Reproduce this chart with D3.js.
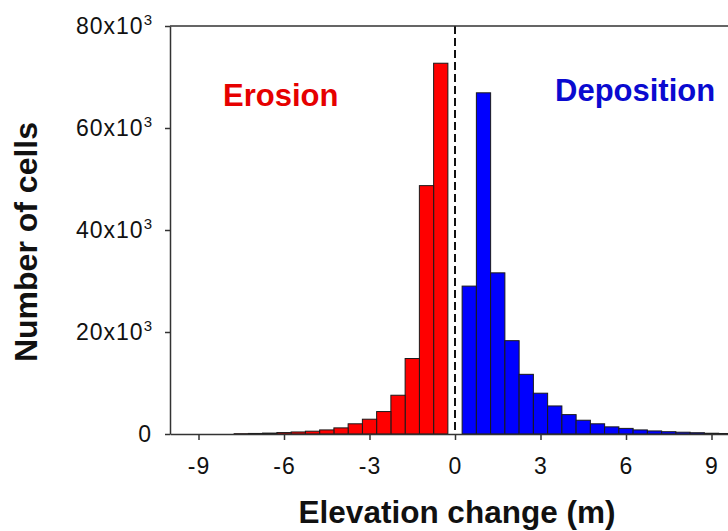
<!DOCTYPE html>
<html>
<head>
<meta charset="utf-8">
<script src="https://cdn.jsdelivr.net/npm/d3@7"></script>
<style>
  body { margin: 0; background: #fff; }
  svg { display: block; font-family: "Liberation Sans", Arial, sans-serif; }
</style>
</head>
<body>
<div id="chart"></div>
<script>
// Histogram bins (centre of each 0.5 m bin) and cell counts
const erosionBins = [-0.5, -1.0, -1.5, -2.0, -2.5, -3.0, -3.5, -4.0, -4.5, -5.0, -5.5, -6.0, -6.5, -7.0, -7.5];
const erosionCounts = [72700, 48700, 14800, 7600, 4400, 2900, 2000, 1200, 800, 550, 400, 280, 180, 110, 60];

const depositionBins = [0.5, 1.0, 1.5, 2.0, 2.5, 3.0, 3.5, 4.0, 4.5, 5.0, 5.5, 6.0, 6.5, 7.0, 7.5, 8.0, 8.5, 9.0, 9.5];
const depositionCounts = [29000, 66900, 31600, 18300, 11700, 8000, 5500, 3800, 2700, 2000, 1400, 1100, 800, 600, 450, 350, 250, 150, 100];

const xTicks = [-9, -6, -3, 0, 3, 6, 9];
const yTicks = [0, 20000, 40000, 60000, 80000];
const binWidth = 0.5;

const W = 728, H = 531;
const plot = { left: 170, right: 740, top: 26, bottom: 434 };

const svg = d3.select('#chart').append('svg')
  .attr('width', W)
  .attr('height', H);

const x = d3.scaleLinear().domain([-10, 10]).range([plot.left, plot.right]);
const y = d3.scaleLinear().domain([0, 80000]).range([plot.bottom, plot.top]);

const erosion = erosionBins.map((c, i) => ({ c, v: erosionCounts[i] }));
const deposition = depositionBins.map((c, i) => ({ c, v: depositionCounts[i] }));

// bars
const drawBars = (data, fill) => {
  svg.append('g')
    .selectAll('rect')
    .data(data)
    .enter()
    .append('rect')
    .attr('x', (d) => x(d.c - binWidth / 2))
    .attr('width', (d) => x(d.c + binWidth / 2) - x(d.c - binWidth / 2))
    .attr('y', (d) => y(d.v))
    .attr('height', (d) => y(0) - y(d.v))
    .attr('fill', fill)
    .attr('stroke', '#1a1a1a')
    .attr('stroke-width', 1);
};
drawBars(erosion, '#ff0000');
drawBars(deposition, '#0000ff');

// zero line
svg.append('line')
  .attr('x1', x(0)).attr('x2', x(0))
  .attr('y1', y(80000)).attr('y2', y(0))
  .attr('stroke', '#111')
  .attr('stroke-width', 2)
  .attr('stroke-dasharray', '8,4');

// frame top and right
svg.append('path')
  .attr('d', `M${plot.left},${plot.top}H${plot.right}V${plot.bottom}`)
  .attr('fill', 'none')
  .attr('stroke', '#333')
  .attr('stroke-width', 1.5);

// x axis
const xAxis = svg.append('g')
  .attr('transform', `translate(0,${plot.bottom})`)
  .call(d3.axisBottom(x).tickValues(xTicks).tickSize(6).tickSizeOuter(0).tickPadding(18)
    .tickFormat((d) => String(d)));
xAxis.select('.domain').attr('stroke', '#333').attr('stroke-width', 1.5);
xAxis.selectAll('.tick line').attr('stroke', '#333').attr('stroke-width', 1.5);
xAxis.selectAll('.tick text')
  .attr('fill', '#111')
  .style('font-size', '23px')
  .style('letter-spacing', '1px');

// y axis
const yAxis = svg.append('g')
  .attr('transform', `translate(${plot.left},0)`)
  .call(d3.axisLeft(y).tickValues(yTicks).tickSize(5).tickSizeOuter(0).tickFormat(''));
yAxis.select('.domain').attr('stroke', '#333').attr('stroke-width', 1.5);
yAxis.selectAll('.tick line').attr('stroke', '#333').attr('stroke-width', 1.5);
yAxis.selectAll('.tick text')
  .attr('x', -18)
  .attr('fill', '#111')
  .style('font-size', '23px')
  .style('letter-spacing', '1px')
  .each(function (d) {
    const t = d3.select(this);
    if (d === 0) {
      t.text('0');
      return;
    }
    t.append('tspan').text(`${d / 1000}x10`);
    t.append('tspan')
      .attr('dy', '-9')
      .style('font-size', '15px')
      .style('letter-spacing', '0px')
      .text('3');
  });

// axis titles
svg.append('text')
  .attr('x', 457)
  .attr('y', 523)
  .attr('text-anchor', 'middle')
  .style('font-size', '31.5px')
  .style('font-weight', 'bold')
  .attr('fill', '#111')
  .text('Elevation change (m)');

svg.append('text')
  .attr('transform', 'translate(37,242) rotate(-90)')
  .attr('text-anchor', 'middle')
  .style('font-size', '32px')
  .style('font-weight', 'bold')
  .attr('fill', '#111')
  .text('Number of cells');

// region labels
svg.append('text')
  .attr('x', 223)
  .attr('y', 106)
  .style('font-size', '31px')
  .style('font-weight', 'bold')
  .attr('fill', '#e60000')
  .text('Erosion');

svg.append('text')
  .attr('x', 555)
  .attr('y', 101)
  .style('font-size', '31px')
  .style('font-weight', 'bold')
  .attr('fill', '#0a0ad0')
  .text('Deposition');
</script>
</body>
</html>
